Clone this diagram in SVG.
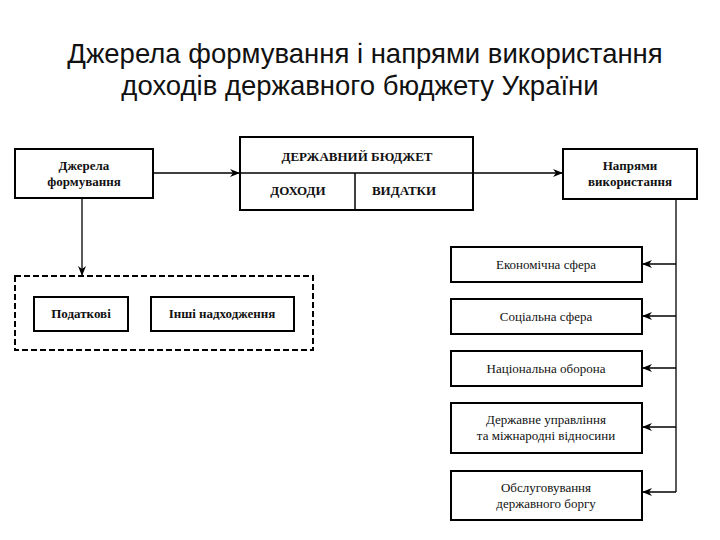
<svg xmlns="http://www.w3.org/2000/svg" width="720" height="540" viewBox="0 0 720 540">
<style>
.b{fill:#fff;stroke:#000;stroke-width:2}
.t{font-family:'Liberation Serif','DejaVu Serif',serif;font-size:13px;text-anchor:middle;fill:#111}
.bd{font-weight:bold}
.h{font-family:'Liberation Sans',sans-serif;font-size:27.5px;text-anchor:middle;fill:#111}
.c{stroke:#000;stroke-width:1.3;fill:none}
</style>
<defs><marker id="a" markerWidth="10" markerHeight="8" refX="9" refY="4" orient="auto" markerUnits="userSpaceOnUse"><path d="M0,0 L10,4 L0,8 L3,4 Z" fill="#000"/></marker></defs>
<rect width="720" height="540" fill="#fff"/>
<text class="h" x="365" y="63">Джерела формування і напрями використання</text>
<text class="h" x="360" y="95">доходів державного бюджету України</text>
<g id="sources"><rect class="b" x="15" y="149" width="138" height="49"/><text class="t bd" x="84" y="170">Джерела</text><text class="t bd" x="84" y="186">формування</text></g>
<g id="budget"><rect class="b" x="240" y="137" width="233" height="73"/><line x1="240" y1="173" x2="473" y2="173" stroke="#000" stroke-width="1.5"/><line x1="355" y1="173" x2="355" y2="210" stroke="#000" stroke-width="1.5"/><text class="t bd" x="357" y="161">ДЕРЖАВНИЙ БЮДЖЕТ</text><text class="t bd" x="298" y="195">ДОХОДИ</text><text class="t bd" x="404" y="195">ВИДАТКИ</text></g>
<g id="uses"><rect class="b" x="563" y="149" width="134" height="50"/><text class="t bd" x="630" y="170">Напрями</text><text class="t bd" x="630" y="186">використання</text></g>
<g id="revgroup"><rect x="15" y="276" width="298" height="74" fill="none" stroke="#000" stroke-width="2" stroke-dasharray="6,3"/></g>
<g id="tax"><rect class="b" x="34" y="297" width="94" height="34"/><text class="t bd" x="81" y="318">Податкові</text></g>
<g id="other"><rect class="b" x="151" y="297" width="143" height="34"/><text class="t bd" x="222" y="318">Інші надходження</text></g>
<g id="e1"><rect class="b" x="451" y="247" width="191" height="35"/><text class="t" x="546" y="269">Економічна сфера</text></g>
<g id="e2"><rect class="b" x="451" y="299" width="191" height="35"/><text class="t" x="546" y="321">Соціальна сфера</text></g>
<g id="e3"><rect class="b" x="451" y="351" width="191" height="35"/><text class="t" x="546" y="373">Національна оборона</text></g>
<g id="e4"><rect class="b" x="451" y="403" width="191" height="50"/><text class="t" x="546" y="424">Державне управління</text><text class="t" x="546" y="440">та міжнародні відносини</text></g>
<g id="e5"><rect class="b" x="451" y="471" width="191" height="49"/><text class="t" x="546" y="492">Обслуговування</text><text class="t" x="546" y="508">державного боргу</text></g>
<g id="connectors">
<line class="c" x1="153" y1="173" x2="239" y2="173" marker-end="url(#a)"/>
<line class="c" x1="473" y1="173" x2="562" y2="173" marker-end="url(#a)"/>
<line class="c" x1="82" y1="198" x2="82" y2="275" marker-end="url(#a)"/>
<line class="c" x1="676" y1="199" x2="676" y2="492"/>
<line class="c" x1="676" y1="264" x2="643" y2="264" marker-end="url(#a)"/>
<line class="c" x1="676" y1="316" x2="643" y2="316" marker-end="url(#a)"/>
<line class="c" x1="676" y1="368" x2="643" y2="368" marker-end="url(#a)"/>
<line class="c" x1="676" y1="427" x2="643" y2="427" marker-end="url(#a)"/>
<line class="c" x1="676" y1="492" x2="643" y2="492" marker-end="url(#a)"/>
</g>
</svg>
